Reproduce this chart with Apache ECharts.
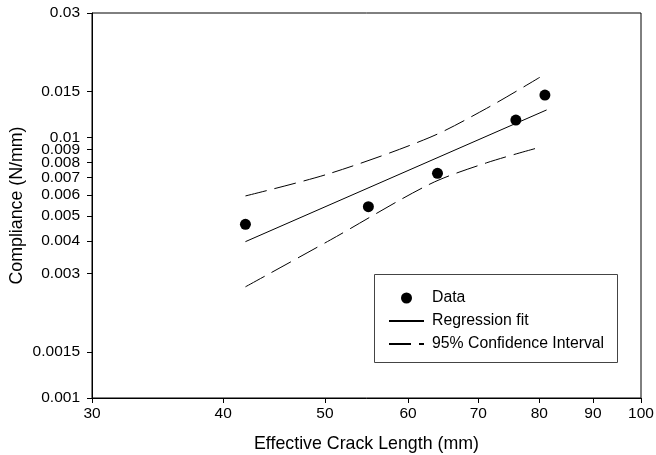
<!DOCTYPE html>
<html>
<head>
<meta charset="utf-8">
<script src="https://cdn.jsdelivr.net/npm/echarts@6/dist/echarts.min.js"></script>
<style>
  html, body { margin: 0; padding: 0; background: #fff; }
  #chart { width: 656px; height: 455px; }
</style>
</head>
<body>
<div id="chart"></div>
<script>
// measured points
var crackLen = [42, 55, 64, 76, 81];
var compliance = [0.00464, 0.00542, 0.00728, 0.01165, 0.01453];

// regression fit (straight in log-log)
var fitX = [42, 81.3];
var fitY = [0.00398, 0.01274];

// 95% confidence band
var ciX = [42, 50.6, 62.95, 71.3, 80.1];
var ciUpper = [0.00596, 0.00728, 0.0100, 0.01293, 0.0170];
var ciLower = [0.00267, 0.00404, 0.00662, 0.00799, 0.00916];

var xTicks = [30, 40, 50, 60, 70, 80, 90, 100];
var yTicks = [0.001, 0.0015, 0.003, 0.004, 0.005, 0.006, 0.007, 0.008, 0.009, 0.01, 0.015, 0.03];

function pairs(xs, ys) {
  return xs.map(function (x, i) { return [x, ys[i]]; });
}

var font = 'Liberation Sans, Arial, sans-serif';
var myChart = echarts.init(document.getElementById('chart'));

var option = {
  animation: false,
  grid: {
    left: 92, right: 15, top: 13, bottom: 57,
    containLabel: false, outerBoundsMode: 'none',
    show: true, borderColor: '#000', borderWidth: 1
  },
  legend: {
    orient: 'vertical',
    left: 383, top: 285,
    itemWidth: 35, itemHeight: 11, itemGap: 7,
    textStyle: { fontFamily: font, fontSize: 15.8, color: '#000', padding: [0, 0, 0, 3] },
    data: [
      { name: 'Data', itemStyle: { opacity: 1 } },
      { name: 'Regression fit', itemStyle: { opacity: 0 } },
      { name: '95% Confidence Interval', itemStyle: { opacity: 0 } }
    ]
  },
  xAxis: {
    type: 'log', logBase: 10, min: 30, max: 100,
    name: 'Effective Crack Length (mm)',
    nameLocation: 'middle', nameGap: 37,
    nameTextStyle: { fontFamily: font, fontSize: 17.8, color: '#000' },
    axisLine: { lineStyle: { color: '#000' } },
    axisTick: { show: true, inside: false, length: 5, customValues: xTicks, lineStyle: { color: '#000' } },
    axisLabel: { customValues: xTicks, margin: 8, fontFamily: font, fontSize: 15.5, color: '#000' },
    splitLine: { show: false },
    minorTick: { show: false }
  },
  yAxis: {
    type: 'log', logBase: 10, min: 0.001, max: 0.03,
    name: 'Compliance (N/mm)',
    nameLocation: 'middle', nameGap: 66, nameMoveOverlap: false,
    nameTextStyle: { fontFamily: font, fontSize: 17.8, color: '#000' },
    axisLine: { lineStyle: { color: '#000' } },
    axisTick: { show: true, inside: false, length: 5, customValues: yTicks, lineStyle: { color: '#000' } },
    axisLabel: {
      customValues: yTicks, margin: 12, fontFamily: font, fontSize: 15.5, color: '#000',
      formatter: function (v) { return String(+v.toPrecision(3)); }
    },
    splitLine: { show: false }
  },
  graphic: [{
    type: 'rect',
    shape: { x: 374.5, y: 274.5, width: 243, height: 88 },
    style: { fill: 'none', stroke: '#444', lineWidth: 1 },
    z: 1
  }],
  series: [
    {
      name: 'Regression fit', type: 'line',
      data: pairs(fitX, fitY),
      symbol: 'none',
      lineStyle: { color: '#000', width: 1 },
      itemStyle: { color: '#000' }
    },
    {
      name: '95% Confidence Interval', type: 'line',
      data: pairs(ciX, ciUpper),
      symbol: 'none', smooth: 0.3,
      lineStyle: { color: '#000', width: 1, type: [22, 8] },
      itemStyle: { color: '#000' }
    },
    {
      name: '95% Confidence Interval', type: 'line',
      data: pairs(ciX, ciLower),
      symbol: 'none', smooth: 0.3,
      lineStyle: { color: '#000', width: 1, type: [22, 8] },
      itemStyle: { color: '#000' }
    },
    {
      name: 'Data', type: 'scatter',
      data: pairs(crackLen, compliance),
      symbol: 'circle', symbolSize: 11,
      itemStyle: { color: '#000', opacity: 1 },
      z: 5
    }
  ]
};
myChart.setOption(option);
</script>
</body>
</html>
